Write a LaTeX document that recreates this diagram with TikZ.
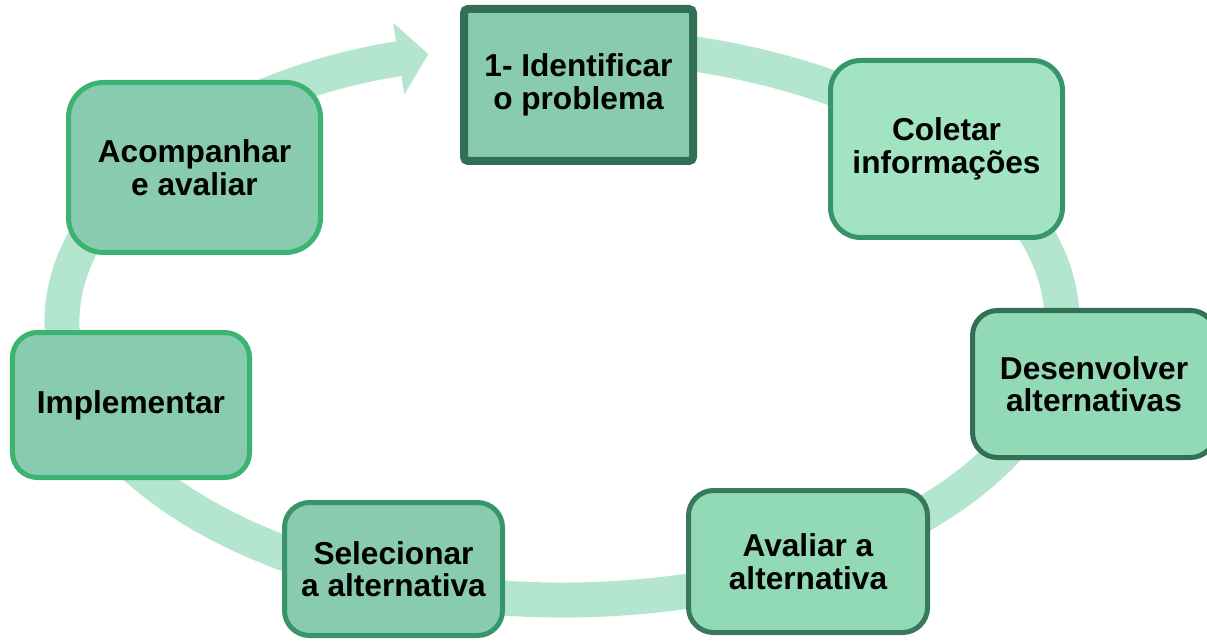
\documentclass[tikz,border=0pt]{standalone}
\usepackage{fontspec}
\setmainfont{Liberation Sans}
\usetikzlibrary{positioning,arrows.meta}

\definecolor{anel}{HTML}{B3E5CF}
\definecolor{bordaescura}{HTML}{326F55}
\definecolor{bordamedia}{HTML}{36956A}
\definecolor{bordaclara}{HTML}{3CB371}
\definecolor{bordacinza}{HTML}{38785C}
\definecolor{fundo}{HTML}{88CBAF}
\definecolor{fundoclaro}{HTML}{A2E4C2}
\definecolor{fundomedio}{HTML}{92DAB6}

\begin{document}
\begin{tikzpicture}[
    passo/.style={rectangle, draw, line width=0.1cm, rounded corners=0.5cm, align=center, inner sep=0pt,
                  font=\bfseries\fontsize{18pt}{18.5pt}\selectfont},
    ciclo/.style={anel, line width=0.7cm, -{Triangle[length=0.6cm, width=1.42cm]}}
]
\useasboundingbox (0,0) rectangle (24.14,12.84);

% Ring behind the steps
\draw[ciclo] (11.24,6.40) ++(80:10cm and 5.56cm)
    arc[start angle=80, end angle=-254.5, x radius=10cm, y radius=5.56cm];

% Steps
\node[passo, draw=bordaescura, fill=fundo, line width=0.16cm, rounded corners=0.08cm,
      minimum width=4.58cm, minimum height=3.04cm] (ident) at (11.57,11.14) {1- Identificar\\o problema};
\node[passo, draw=bordamedia, fill=fundoclaro, rounded corners=0.6cm,
      minimum width=4.64cm, minimum height=3.54cm] (coletar) at (18.93,9.86) {Coletar\\informações};
\node[passo, draw=bordaescura, fill=fundomedio,
      minimum width=4.86cm, minimum height=2.94cm] (desenv) at (21.88,5.16) {Desenvolver\\alternativas};
\node[passo, draw=bordacinza, fill=fundomedio,
      minimum width=4.78cm, minimum height=2.84cm] (avaliar) at (16.16,1.61) {Avaliar a\\alternativa};
\node[passo, draw=bordamedia, fill=fundo,
      minimum width=4.36cm, minimum height=2.66cm] (selec) at (7.87,1.46) {Selecionar\\a alternativa};
\node[passo, draw=bordaclara, fill=fundo,
      minimum width=4.74cm, minimum height=2.90cm] (implem) at (2.62,4.74) {Implementar};
\node[passo, draw=bordaclara, fill=fundo, rounded corners=0.7cm,
      minimum width=5.04cm, minimum height=3.40cm] (acomp) at (3.89,9.49) {Acompanhar\\e avaliar};

\end{tikzpicture}
\end{document}
